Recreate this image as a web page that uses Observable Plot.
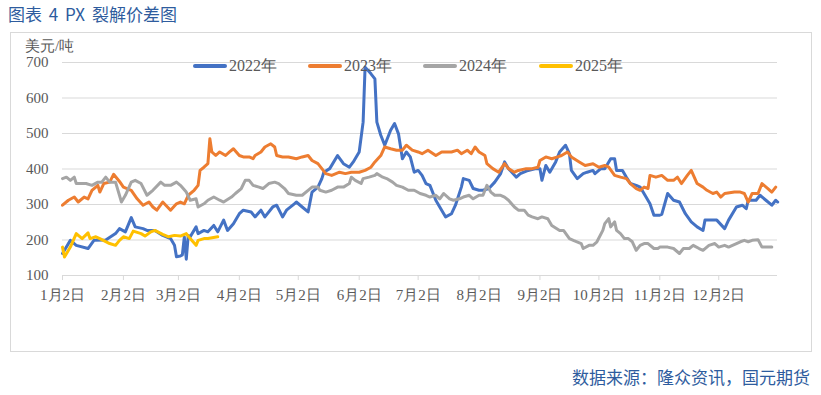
<!DOCTYPE html>
<html><head><meta charset="utf-8">
<script src="https://cdn.jsdelivr.net/npm/d3@7"></script>
<script src="https://cdn.jsdelivr.net/npm/@observablehq/plot@0.6"></script>
<style>
body{margin:0;width:821px;height:395px;position:relative;background:#fff;overflow:hidden;font-family:"Liberation Serif","Times New Roman","DejaVu Serif",serif}
#title{position:absolute;left:8px;top:4px;font-size:17px;line-height:20px;font-family:"Noto Sans CJK SC",sans-serif;color:#2E5C9E;word-spacing:3px}
#box{position:absolute;left:10px;top:32px;width:802px;height:320px;border:1px solid #d9d9d9;box-sizing:border-box}
#chart{position:absolute;left:0;top:0}
#unit{position:absolute;left:14px;top:6px;font-size:15px;line-height:15px;color:#595959}
.leg{position:absolute;top:25px;display:flex;align-items:center;font-size:16px;line-height:16px;color:#595959;white-space:nowrap}
.sw{width:34px;height:4px;margin-right:2px;border-radius:2px}
#source{position:absolute;right:11px;top:367px;font-size:17px;line-height:20px;font-family:"Noto Sans CJK SC",sans-serif;color:#2E5C9E}
</style></head>
<body>
<div id="title">图表 4 PX 裂解价差图</div>
<div id="box"><div id="chart"></div><div id="unit">美元/吨</div><div id="legend"></div></div>
<div id="source">数据来源：隆众资讯，国元期货</div>
<script>
const seriesNames = ["2022年","2023年","2024年","2025年"];
const seriesColors = ["#4472C4","#ED7D31","#A5A5A5","#FFC000"];
const yTicks = [100,200,300,400,500,600,700];
const tickLabels = ["1月2日","2月2日","3月2日","4月2日","5月2日","6月2日","7月2日","8月2日","9月2日","10月2日","11月2日","12月2日"];
// [day offset from Jan 1, value]
const s2022 = [[1,162],[5,199],[8,185],[14,176],[17,199],[23,200],[28,218],[30,232],[33,223],[36,263],[38,237],[42,232],[44,227],[48,227],[52,213],[56,204],[58,185],[59,153],[61,155],[62,158],[63,209],[64,146],[65,213],[66,209],[69,237],[70,218],[73,227],[75,223],[78,241],[80,223],[83,256],[85,227],[88,246],[91,274],[93,284],[97,279],[99,265],[102,284],[104,265],[108,293],[110,298],[113,265],[115,284],[119,302],[120,307],[123,293],[126,279],[128,335],[131,349],[133,373],[134,391],[137,401],[141,438],[144,415],[147,405],[149,420],[152,448],[154,532],[155,687],[158,668],[160,654],[161,532],[163,495],[165,467],[168,509],[170,528],[172,499],[174,429],[176,448],[178,434],[180,391],[182,396],[184,382],[186,359],[188,354],[191,312],[193,293],[196,265],[199,274],[201,298],[204,349],[205,373],[208,368],[210,345],[213,340],[215,340],[218,345],[221,363],[224,387],[226,420],[228,401],[232,377],[234,387],[238,396],[242,401],[244,401],[245,368],[247,410],[249,391],[252,420],[254,448],[257,467],[259,443],[260,396],[263,373],[266,387],[268,391],[271,396],[272,387],[275,401],[277,401],[280,429],[282,429],[283,396],[286,396],[288,377],[290,359],[293,354],[295,349],[298,321],[300,302],[302,270],[305,270],[306,272],[309,331],[312,312],[315,307],[318,274],[321,251],[324,237],[327,227],[328,256],[332,256],[334,256],[338,232],[340,256],[344,293],[347,298],[349,288],[350,312],[354,312],[356,326],[359,312],[362,298],[364,312],[365,307]];
const s2023 = [[1,298],[4,312],[7,321],[9,307],[12,321],[14,316],[16,340],[19,354],[20,335],[22,359],[25,363],[27,385],[30,365],[32,349],[36,340],[39,316],[42,298],[45,307],[47,293],[49,284],[52,307],[56,284],[59,302],[61,307],[63,302],[65,326],[68,340],[70,354],[71,396],[73,405],[75,415],[76,485],[77,448],[79,438],[81,448],[84,438],[86,448],[88,457],[91,438],[93,434],[96,434],[98,429],[99,438],[102,448],[104,462],[107,471],[109,462],[110,438],[113,434],[116,434],[120,429],[123,434],[126,438],[128,424],[131,415],[133,401],[135,387],[138,382],[142,391],[145,387],[148,391],[152,391],[155,396],[158,405],[160,420],[163,438],[165,462],[168,457],[171,453],[174,453],[176,467],[179,453],[182,448],[184,443],[187,453],[191,438],[194,448],[199,448],[202,453],[204,443],[207,453],[209,443],[211,462],[213,448],[216,438],[217,415],[220,401],[223,391],[226,415],[228,401],[231,391],[233,396],[237,401],[240,401],[243,405],[244,424],[247,434],[250,429],[253,434],[255,438],[258,448],[260,434],[264,420],[267,410],[271,415],[274,405],[277,410],[279,405],[282,382],[285,377],[288,373],[290,359],[293,345],[295,340],[297,349],[299,345],[300,382],[303,377],[306,382],[309,368],[312,368],[314,377],[316,359],[319,382],[321,396],[324,359],[327,349],[329,340],[332,331],[334,335],[336,321],[338,331],[343,335],[346,335],[348,331],[350,307],[352,331],[355,331],[357,359],[360,345],[362,335],[364,349]];
const s2024 = [[1,373],[3,377],[5,368],[7,377],[8,359],[13,359],[16,354],[19,363],[21,363],[23,377],[25,363],[28,363],[31,307],[33,326],[36,363],[38,368],[41,359],[44,326],[47,340],[51,363],[53,354],[56,354],[59,363],[61,354],[64,335],[66,312],[69,316],[70,293],[73,302],[75,312],[78,321],[81,312],[83,307],[87,321],[89,331],[92,345],[94,368],[96,368],[98,354],[101,349],[103,345],[106,359],[109,363],[111,359],[114,345],[116,331],[120,326],[123,326],[126,340],[128,349],[131,349],[132,340],[135,335],[138,340],[141,349],[144,349],[147,359],[148,377],[150,368],[153,359],[154,373],[157,377],[160,382],[161,387],[164,377],[166,373],[169,363],[171,354],[174,349],[177,340],[180,340],[183,331],[186,326],[188,321],[191,326],[193,316],[195,331],[198,316],[200,312],[203,316],[205,321],[208,326],[210,316],[213,326],[215,326],[217,354],[219,335],[221,326],[224,326],[226,321],[228,312],[231,293],[233,284],[236,284],[238,270],[240,265],[243,260],[245,265],[248,260],[250,241],[254,227],[256,227],[259,204],[261,199],[265,190],[266,176],[269,185],[271,185],[273,195],[276,227],[277,246],[279,260],[280,237],[282,251],[283,227],[285,218],[287,204],[289,204],[291,195],[293,171],[295,185],[297,190],[299,190],[302,176],[304,176],[305,180],[309,180],[312,176],[315,162],[317,176],[320,176],[322,185],[325,176],[327,171],[330,185],[333,190],[335,180],[338,185],[340,180],[344,190],[346,195],[348,199],[350,195],[352,199],[355,201],[357,180],[360,180],[362,180]];
const s2025 = [[1,180],[2,152],[5,180],[8,218],[11,204],[14,220],[15,204],[18,209],[20,204],[25,190],[28,185],[30,199],[32,209],[35,204],[37,225],[41,218],[43,211],[46,223],[48,227],[52,216],[55,209],[58,213],[61,211],[64,218],[66,204],[69,185],[70,199],[73,204],[75,204],[80,209]];

const base = Date.UTC(2001,0,1);
const toDate = d => new Date(base + d*864e5);
const allSeries = [s2022,s2023,s2024,s2025].map((s,k)=>s.map(([d,v])=>({name:seriesNames[k],date:toDate(d),value:v})));
const tickDates = tickLabels.map((_,m)=>new Date(Date.UTC(2001,m,2)));
const axisFont = '"Liberation Serif","Times New Roman","DejaVu Serif",serif';

const chart = Plot.plot({
  width:800, height:318,
  marginLeft:51, marginRight:34, marginTop:29, marginBottom:76,
  style:{fontFamily:axisFont, fontSize:"15px", color:"#595959", background:"transparent", overflow:"visible"},
  x:{type:"utc", domain:[toDate(1), toDate(364.9)]},
  y:{domain:[100,700]},
  marks:[
    Plot.gridY(yTicks.slice(1), {stroke:"#d9d9d9", strokeOpacity:1}),
    Plot.ruleY([100], {stroke:"#d9d9d9"}),
    Plot.axisY(yTicks, {tickSize:0, tickPadding:14, fontSize:15, fontFamily:axisFont, label:null}),
    Plot.axisX(tickDates, {tickSize:5, tickPadding:9, stroke:"#d9d9d9", fontSize:15, fontFamily:axisFont, label:null, tickFormat:d=>tickLabels[d.getUTCMonth()]}),
    ...allSeries.map((data,k)=>Plot.line(data,{x:"date", y:"value", stroke:seriesColors[k], strokeWidth:3, strokeLinejoin:"round", strokeLinecap:"round"}))
  ]
});
document.getElementById("chart").appendChild(chart);

const legendLeft = [182,297,412,528];
const legend = document.getElementById("legend");
seriesNames.forEach((n,k)=>{
  const item = document.createElement("div");
  item.className="leg";
  item.style.left = legendLeft[k]+"px";
  item.innerHTML = `<span class="sw" style="background:${seriesColors[k]}"></span><span>${n}</span>`;
  legend.appendChild(item);
});
</script>
</body></html>
